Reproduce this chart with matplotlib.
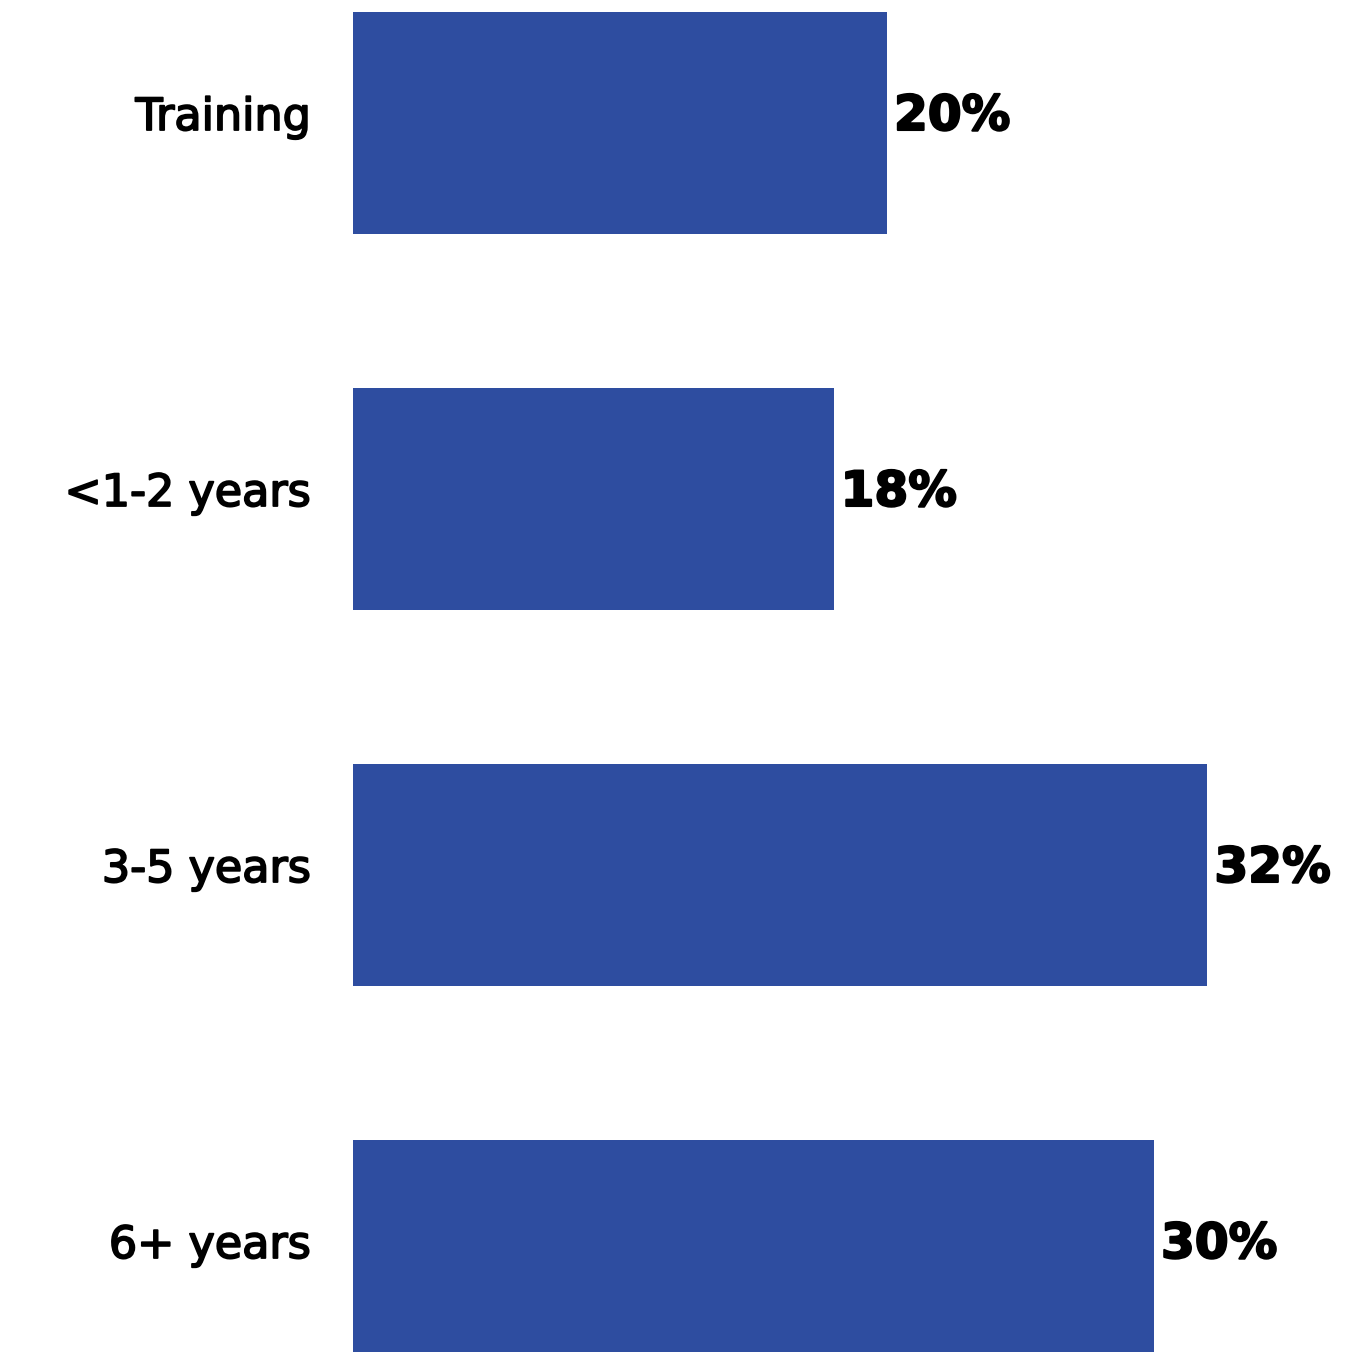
import matplotlib
matplotlib.use("Agg")
import matplotlib.pyplot as plt
import matplotlib.patheffects as pe

categories = ["Training", "<1-2 years", "3-5 years", "6+ years"]
values = [20, 18, 32, 30]
value_labels = ["20%", "18%", "32%", "30%"]

BAR_COLOR = "#2E4DA0"
FONT = ["DejaVu Sans"]

W, H = 1368, 1352
fig = plt.figure(figsize=(W / 100, H / 100), dpi=100)

left_px = 353
px_per_unit = 26.7
row_px = 376
ax = fig.add_axes([left_px / W, 0, 1 - left_px / W, 1])

y = list(range(len(categories)))
ax.barh(y, values, height=0.59, color=BAR_COLOR)

# category centres at 123 px from top, one row every 376 px
top_val = (0 - 123) / row_px
bot_val = (H - 123) / row_px
ax.set_ylim(bot_val, top_val)
ax.set_xlim(0, (W - left_px) / px_per_unit)
ax.axis("off")

label_fx = [pe.withStroke(linewidth=1.3, foreground="black")]
value_fx = [pe.withStroke(linewidth=1.5, foreground="black")]

# text sits on a baseline slightly below each bar's centre
baseline_shift = 7 / row_px

for yi, cat, v, lab in zip(y, categories, values, value_labels):
    ax.text(-42 / px_per_unit, yi + baseline_shift, cat, ha="right", va="baseline",
            fontsize=32, fontweight="normal", family=FONT, color="black",
            path_effects=label_fx)
    ax.text(v + 7 / px_per_unit, yi + baseline_shift, lab, ha="left", va="baseline",
            fontsize=35, fontweight="bold", family=FONT, color="black",
            path_effects=value_fx)

fig.savefig("out.png", dpi=100)
